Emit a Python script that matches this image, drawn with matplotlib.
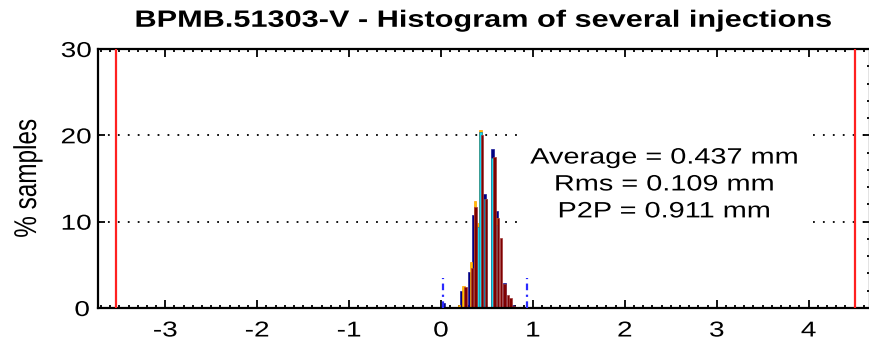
import matplotlib
matplotlib.use("Agg")
import matplotlib.pyplot as plt
from matplotlib import patheffects
from matplotlib.transforms import Affine2D
from matplotlib.ticker import MultipleLocator

# per-injection histograms: bin left edges (mm) and fraction of samples (%)
navy_x = [0.02, 0.21, 0.297, 0.34, 0.386, 0.46, 0.547, 0.593, 0.68, 0.773]
navy_h = [0.6, 2.0, 4.2, 10.8, 9.6, 13.2, 18.4, 11.2, 2.9, 0.4]
gold_x = [0.182, 0.232, 0.316, 0.359, 0.392, 0.419, 0.558, 0.598]
gold_h = [0.3, 2.5, 5.3, 12.4, 9.8, 20.6, 17.0, 10.4]
cyan_x = [0.392, 0.419, 0.473, 0.548, 0.598]
cyan_h = [9.4, 20.4, 12.6, 17.4, 9.6]
maroon_x = [0.254, 0.323, 0.362, 0.435, 0.479, 0.571, 0.609, 0.642, 0.68, 0.713, 0.745, 0.783]
maroon_h = [2.4, 4.6, 11.7, 20.0, 12.6, 17.5, 10.4, 8.1, 2.8, 1.5, 1.2, 0.2]

average = 0.437
rms = 0.109
p2p = 0.911
pos_min = 0.025
pos_max = pos_min + p2p
limits = [-3.54, 4.50]

bar_w = 0.026


class HStretch(patheffects.AbstractPathEffect):
    """Draw text glyphs widened horizontally about each line's centre."""

    def __init__(self, sx=1.3):
        super().__init__()
        self.sx = sx

    def draw_path(self, renderer, gc, tpath, affine, rgbFace=None):
        ext = tpath.get_extents(affine)
        cx = 0.5 * (ext.x0 + ext.x1)
        wide = Affine2D().translate(-cx, 0).scale(self.sx, 1).translate(cx, 0)
        renderer.draw_path(gc, tpath, affine + wide, rgbFace)


plt.rcParams["font.family"] = ["Liberation Sans", "DejaVu Sans"]
plt.rcParams["axes.unicode_minus"] = False

fig = plt.figure(figsize=(8.69, 3.43), dpi=100)
ax = fig.add_axes([98 / 869, 35 / 343, 772 / 869, 259 / 343])

ax.set_xlim(-3.732, 4.668)
ax.set_ylim(0, 30)

for y in (10, 20):
    ax.axhline(y, color="black", lw=1.3, ls=(0, (1, 4.5)), zorder=1)

ax.bar(navy_x, navy_h, width=bar_w, align="edge", color="#00007f",
       edgecolor="#1a1a9a", lw=0.5, zorder=2)
ax.bar(gold_x, gold_h, width=bar_w, align="edge", color="#ffc400",
       edgecolor="#ff9d00", lw=0.5, zorder=2)
ax.bar(cyan_x, cyan_h, width=bar_w, align="edge", color="#18d8f0",
       edgecolor="#1a8c9a", lw=0.5, zorder=2)
ax.bar(maroon_x, maroon_h, width=bar_w, align="edge", color="#7f0000",
       edgecolor="#a03a3a", lw=0.5, zorder=2)

for x in limits:
    ax.axvline(x, color="#ff2020", lw=1.6, zorder=3)
ax.vlines([pos_min, pos_max], 0, 3.5, colors="#2a2aff", lw=1.6,
          linestyles=(0, (3, 2, 1, 2)), zorder=3)

stats = ax.text(2.43, 14.25,
                f"Average = {average:.3f} mm\nRms = {rms:.3f} mm\nP2P = {p2p:.3f} mm",
                ha="center", va="center", fontsize=16, linespacing=1.37,
                bbox=dict(boxstyle="square,pad=1.7", fc="white", ec="none"),
                zorder=4)
stats.set_path_effects([HStretch()])

ax.xaxis.set_major_locator(MultipleLocator(1))
ax.xaxis.set_minor_locator(MultipleLocator(0.1))
ax.yaxis.set_major_locator(MultipleLocator(10))
ax.yaxis.set_minor_locator(MultipleLocator(2))
ax.tick_params(which="both", direction="in", top=True, right=True,
               width=1.3, colors="black", labelsize=15.5)
ax.tick_params(axis="x", which="major", length=6, pad=9)
ax.tick_params(axis="x", which="minor", length=2.5)
ax.tick_params(axis="y", which="major", length=5, pad=7)
ax.tick_params(axis="y", which="minor", length=2, left=False)
for sp in ax.spines.values():
    sp.set_linewidth(1.6)

title = ax.set_title("BPMB.51303-V - Histogram of several injections",
                     fontsize=17, fontweight="bold", pad=16)
title.set_path_effects([HStretch()])
ylab = ax.set_ylabel("% samples", fontsize=17.5, labelpad=18)
ylab.set_path_effects([HStretch()])
for lbl in ax.get_xticklabels() + ax.get_yticklabels():
    lbl.set_path_effects([HStretch()])

fig.savefig("out.png", dpi=100)
